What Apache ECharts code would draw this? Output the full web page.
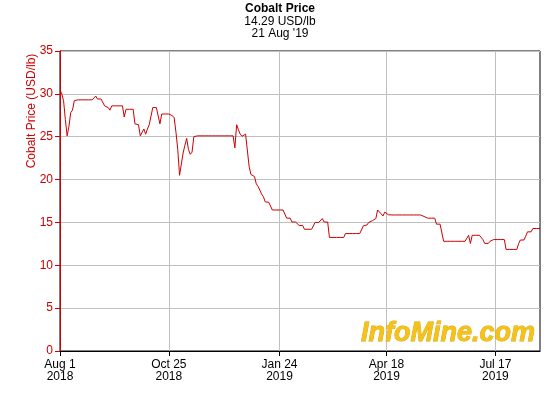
<!DOCTYPE html>
<html>
<head>
<meta charset="utf-8">
<script src="https://cdn.jsdelivr.net/npm/echarts@6/dist/echarts.min.js"></script>
<style>html,body{margin:0;padding:0;background:#fff;}#c{width:560px;height:400px;}</style>
</head>
<body>
<div id="c"></div>
<script>
// Trading-day categories (weekdays, minus market holidays)
const startDate = '2018-08-01';
const endDate = '2019-08-21';
const holidays = ['2018-12-25','2018-12-26','2019-01-01','2019-04-19','2019-04-22','2019-05-27'];
const tickDates = ['2018-08-01','2018-10-25','2019-01-24','2019-04-18','2019-07-17'];
const tickLabels = ['Aug 1\n2018','Oct 25\n2018','Jan 24\n2019','Apr 18\n2019','Jul 17\n2019'];
const yTicks = [0,5,10,15,20,25,30,35];
const titleText = 'Cobalt Price';
const subText = "14.29 USD/lb\n21 Aug '19";
const yName = 'Cobalt Price (USD/lb)';

// Daily cobalt price, USD/lb
const prices = [
30.45,30.0,29.2,27.0,25.1,26.2,27.8,28.1,29.2,29.3,
29.3,29.3,29.3,29.3,29.3,29.3,29.3,29.3,29.3,29.4,
29.75,29.4,29.4,29.4,29.4,28.6,28.4,28.4,28.1,28.6,
28.6,28.6,28.6,28.6,28.6,28.6,27.3,28.2,28.2,28.2,
28.2,28.2,26.5,26.5,26.4,25.1,25.5,25.9,25.3,25.9,
26.4,26.5,28.4,28.4,28.4,28.4,26.5,27.65,27.65,27.65,
27.65,27.65,27.6,27.45,27.2,25.5,23.5,20.5,21.8,23.1,
24.0,24.8,23.5,22.95,23.2,25.0,25.1,25.1,25.1,25.1,
25.1,25.1,25.1,25.1,25.1,25.1,25.1,25.1,25.1,25.1,
25.1,25.1,25.1,25.1,25.1,25.1,25.1,25.1,23.7,26.4,
25.8,25.3,25.05,25.2,25.3,25.25,21.5,20.6,20.5,20.35,
19.5,19.2,19.2,18.3,18.0,17.4,17.35,17.35,17.35,16.45,
16.45,16.45,16.45,16.45,16.45,16.45,16.45,15.5,15.5,15.5,
15.05,15.05,15.05,15.05,14.65,14.65,14.65,14.2,14.2,14.2,
14.2,14.2,14.2,15.0,15.0,15.0,15.0,15.45,15.05,15.05,
15.05,13.25,13.25,13.25,13.25,13.25,13.25,13.25,13.25,13.25,
13.7,13.7,13.7,13.7,13.7,13.7,13.7,13.7,13.7,13.7,
14.6,14.65,14.7,15.0,15.1,15.2,15.3,15.45,16.45,16.3,
16.0,15.75,16.2,16.05,15.9,15.87,15.87,15.87,15.87,15.87,
15.87,15.87,15.87,15.87,15.87,15.87,15.87,15.87,15.87,15.87,
15.87,15.87,15.87,15.87,15.7,15.5,15.5,15.5,15.5,15.5,
15.5,14.8,14.8,14.8,14.8,12.8,12.8,12.8,12.8,12.8,
12.8,12.8,12.8,12.8,12.8,12.8,12.8,12.8,12.8,13.5,
12.55,13.5,13.5,13.5,13.5,13.5,13.5,13.0,12.55,12.55,
12.55,12.8,13.0,13.0,13.0,13.0,13.0,13.0,13.0,13.0,
11.85,11.85,11.85,11.85,11.85,11.85,11.85,12.5,12.95,12.95,
12.95,13.4,13.9,13.9,13.9,14.29,14.29,14.29,14.29,14.29
];

function fmt(d){
  const m = String(d.getUTCMonth()+1).padStart(2,'0');
  const dd = String(d.getUTCDate()).padStart(2,'0');
  return d.getUTCFullYear()+'-'+m+'-'+dd;
}
const categories = [];
{
  let d = new Date(startDate+'T00:00:00Z');
  const e = new Date(endDate+'T00:00:00Z');
  while (d <= e) {
    const wd = d.getUTCDay();
    const s = fmt(d);
    if (wd !== 0 && wd !== 6 && holidays.indexOf(s) < 0) categories.push(s);
    d = new Date(d.getTime() + 86400000);
  }
}
const isTick = (i, v) => tickDates.indexOf(v) >= 0;

const FONT = '"Liberation Sans", Arial, sans-serif';
const chart = echarts.init(document.getElementById('c'), null, {renderer:'canvas'});
chart.setOption({
  animation: false,
  backgroundColor: '#fff',
  title: {
    text: titleText,
    subtext: subText,
    left: 'center',
    top: 3,
    itemGap: 1,
    padding: 0,
    textStyle: {fontFamily: FONT, fontSize: 12, fontWeight: 'bold', color: '#000', lineHeight: 12},
    subtextStyle: {fontFamily: FONT, fontSize: 12, color: '#000', lineHeight: 12}
  },
  grid: {left: 60, right: 20, top: 51, bottom: 49, show: true, borderColor: '#000', borderWidth: 1},
  xAxis: {
    type: 'category',
    data: categories,
    boundaryGap: false,
    axisLine: {show: true, lineStyle: {color: '#000', width: 1}},
    axisTick: {show: true, interval: isTick, length: 5, lineStyle: {color: '#000'}},
    axisLabel: {
      interval: isTick,
      formatter: (v) => tickLabels[tickDates.indexOf(v)] || '',
      color: '#000', fontFamily: FONT, fontSize: 12, lineHeight: 12, margin: 8
    },
    splitLine: {show: true, interval: isTick, lineStyle: {color: '#c0c0c0', width: 1}}
  },
  yAxis: {
    type: 'value',
    min: yTicks[0], max: yTicks[yTicks.length-1], interval: 5,
    axisLine: {show: true, lineStyle: {color: '#cc0000', width: 1}},
    axisTick: {show: true, length: 5, lineStyle: {color: '#cc0000'}},
    axisLabel: {color: '#cc0000', fontFamily: FONT, fontSize: 12, margin: 7},
    splitLine: {show: true, lineStyle: {color: '#c0c0c0', width: 1}}
  },
  graphic: [
    {
      type: 'text', x: 32, y: 111, rotation: Math.PI/2, z: 10,
      style: {text: yName, fill: '#cc0000', font: '12px ' + FONT, align: 'center', verticalAlign: 'middle'}
    },
    {
      type: 'text', x: 448, y: 334, z: 5,
      style: {
        text: 'InfoMine.com', font: 'italic bold 27px ' + FONT,
        fill: '#f5c21b', stroke: '#d9a400', lineWidth: 0.8,
        align: 'center', verticalAlign: 'middle',
        shadowColor: 'rgba(100,100,100,0.85)', shadowOffsetX: 2, shadowOffsetY: 2, shadowBlur: 0
      }
    }
  ],
  series: [{
    type: 'line',
    data: prices,
    showSymbol: false,
    symbol: 'none',
    lineStyle: {color: '#cc0000', width: 1},
    z: 3
  }]
});
</script>
</body>
</html>
